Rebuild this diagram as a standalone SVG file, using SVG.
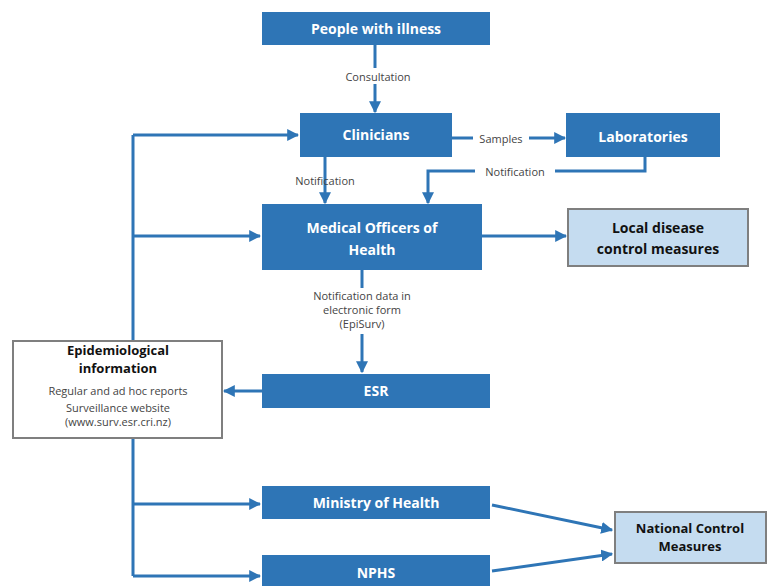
<svg xmlns="http://www.w3.org/2000/svg" width="770" height="586" viewBox="0 0 770 586">
<defs>
<marker id="ah" viewBox="0 0 10 10" refX="9" refY="5" markerWidth="4" markerHeight="4" orient="auto" markerUnits="strokeWidth">
<path d="M0,0 L10,5 L0,10 z" fill="#2E75B6"/>
</marker>
<style>
.box{fill:#2E75B6;}
.lbox{fill:#C5DCF0;stroke:#7F7F7F;stroke-width:2;}
.wbox{fill:#FFFFFF;stroke:#7F7F7F;stroke-width:2;}
.t{font-family:"Open Sans","Liberation Sans",sans-serif;font-weight:bold;font-size:14px;fill:#FFFFFF;text-anchor:middle;}
.d{font-family:"Open Sans","Liberation Sans",sans-serif;font-weight:bold;font-size:14px;fill:#111111;text-anchor:middle;}
.s{font-family:"Open Sans","Liberation Sans",sans-serif;font-size:11px;fill:#444444;text-anchor:middle;}
.c{fill:none;stroke:#2E75B6;stroke-width:3;}
.a{fill:none;stroke:#2E75B6;stroke-width:3;marker-end:url(#ah);}
</style>
</defs>
<rect width="770" height="586" fill="#FFFFFF"/>
<g id="connectors">
<path class="a" d="M375,45 V112"/>
<path class="a" d="M452,138 H565"/>
<path class="a" d="M325,157 V203"/>
<path class="a" d="M645,157 V171 H428 V203"/>
<path class="a" d="M482,236 H566"/>
<path class="a" d="M362,270 V372"/>
<path class="a" d="M262,391 H224"/>
<path class="c" d="M133,135 V576"/>
<path class="a" d="M133,135 H298"/>
<path class="a" d="M133,236 H260"/>
<path class="a" d="M133,504 H260"/>
<path class="a" d="M133,576 H260"/>
<path class="a" d="M492,505 L612,530"/>
<path class="a" d="M492,571 L612,554"/>
<rect x="340" y="68" width="78" height="16" fill="#FFFFFF"/>
<text class="s" x="378" y="81">Consultation</text>
<rect x="473" y="130" width="56" height="16" fill="#FFFFFF"/>
<text class="s" x="501" y="143">Samples</text>
<rect x="475" y="163" width="80" height="16" fill="#FFFFFF"/>
<text class="s" x="515" y="176">Notification</text>
<text class="s" x="325" y="185">Notification</text>
<rect x="288" y="288" width="148" height="46" fill="#FFFFFF"/>
<text class="s" x="362" y="300">Notification data in</text>
<text class="s" x="362" y="314">electronic form</text>
<text class="s" x="362" y="328">(EpiSurv)</text>
</g>
<g id="people">
<rect class="box" x="262" y="12" width="228" height="33"/>
<text class="t" x="376" y="34">People with illness</text>
</g>
<g id="clinicians">
<rect class="box" x="300" y="113" width="152" height="44"/>
<text class="t" x="376" y="140">Clinicians</text>
</g>
<g id="laboratories">
<rect class="box" x="566" y="113" width="154" height="44"/>
<text class="t" x="643" y="142">Laboratories</text>
</g>
<g id="moh">
<rect class="box" x="262" y="204" width="220" height="66"/>
<text class="t" x="372" y="233">Medical Officers of</text>
<text class="t" x="372" y="255">Health</text>
</g>
<g id="local">
<rect class="lbox" x="568" y="209" width="180" height="57"/>
<text class="d" x="658" y="233">Local disease</text>
<text class="d" x="658" y="254">control measures</text>
</g>
<g id="esr">
<rect class="box" x="262" y="374" width="228" height="34"/>
<text class="t" x="376" y="396">ESR</text>
</g>
<g id="epi">
<rect class="wbox" x="13" y="341" width="209" height="97"/>
<text class="d" x="118" y="355" style="font-size:13px">Epidemiological</text>
<text class="d" x="118" y="373" style="font-size:13px">information</text>
<text class="s" x="118" y="395">Regular and ad hoc reports</text>
<text class="s" x="118" y="412">Surveillance website</text>
<text class="s" x="118" y="426">(www.surv.esr.cri.nz)</text>
</g>
<g id="ministry">
<rect class="box" x="262" y="486" width="228" height="33"/>
<text class="t" x="376" y="508">Ministry of Health</text>
</g>
<g id="nphs">
<rect class="box" x="262" y="555" width="228" height="31"/>
<text class="t" x="376" y="578">NPHS</text>
</g>
<g id="national">
<rect class="lbox" x="615" y="512" width="151" height="51"/>
<text class="d" x="690" y="533" style="font-size:13px">National Control</text>
<text class="d" x="690" y="551" style="font-size:13px">Measures</text>
</g>
</svg>
